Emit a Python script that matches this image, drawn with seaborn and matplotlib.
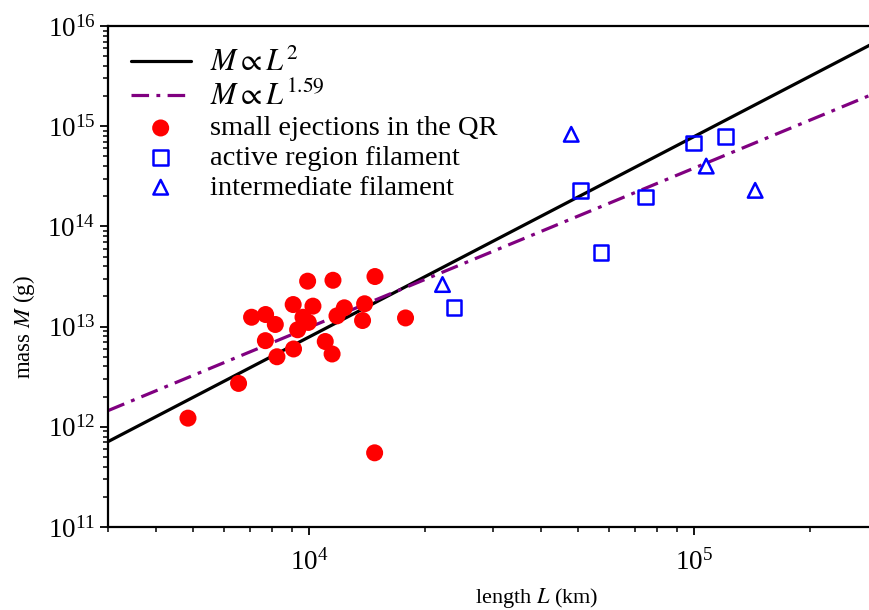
import numpy as np
import pandas as pd
import matplotlib
matplotlib.use("Agg")
import matplotlib.pyplot as plt
import seaborn as sns

# Small ejections in the quiet region: length (km) and mass (g)
qr_length = [4840, 6550, 7080, 7700, 8160, 9080, 10220, 9630, 9940, 9325,
             7690, 8240, 9100, 11000, 11460, 9900, 11520, 14810, 12330,
             11800, 13920, 13750, 17780, 14780]
qr_mass = [1.22e12, 2.71e12, 1.24e13, 1.32e13, 1.05e13, 1.66e13, 1.60e13,
           1.24e13, 1.10e13, 9.3e12, 7.24e12, 5.0e12, 5.98e12, 7.1e12,
           5.33e12, 2.84e13, 2.9e13, 3.16e13, 1.54e13, 1.28e13, 1.69e13,
           1.15e13, 1.22e13, 5.5e11]

# Active region filaments
ar_length = [23770, 50600, 57300, 74700, 99600, 120400]
ar_mass = [1.56e13, 2.29e14, 5.5e13, 1.97e14, 6.8e14, 7.9e14]

# Intermediate filaments
im_length = [22180, 47900, 107400, 143900]
im_mass = [2.63e13, 8.3e14, 4.0e14, 2.29e14]

# Power-law relations M = k * L^p
law_range = [3000, 3.0e5]
p_quad, k_quad = 2.0, 7.9e4
p_fit, k_fit = 1.59, 1.45e12 / 3000 ** 1.59

sns.set_theme(style="ticks")
plt.rcParams["font.family"] = ["Liberation Serif", "DejaVu Serif"]
plt.rcParams["mathtext.fontset"] = "stix"
plt.rcParams["xtick.direction"] = "out"
plt.rcParams["ytick.direction"] = "out"
plt.rcParams["text.color"] = "black"
plt.rcParams["axes.labelcolor"] = "black"

fig = plt.figure(figsize=(8.7, 6.1), dpi=100)
ax = fig.add_axes([108 / 870, 83 / 610, 770 / 870, 501 / 610])

L = np.array(law_range, dtype=float)
quad_df = pd.DataFrame({"L": L, "M": k_quad * L ** p_quad})
fit_df = pd.DataFrame({"L": L, "M": k_fit * L ** p_fit})

sns.lineplot(data=quad_df, x="L", y="M", color="black", lw=2.3,
             label=r"$M \propto L^{2}$", ax=ax)
sns.lineplot(data=fit_df, x="L", y="M", color="#800080", lw=2.3,
             label=r"$M \propto L^{1.59}$", ax=ax)
for ln in ax.get_lines()[1:2]:
    ln.set_linestyle((0, (5.5, 2.3, 1.2, 2.3)))

sns.scatterplot(x=qr_length, y=qr_mass, marker="o", s=150, color="red",
                edgecolor="none", label="small ejections in the QR", ax=ax,
                zorder=3)
sns.scatterplot(x=ar_length, y=ar_mass, marker="s", s=110, facecolor="none",
                edgecolor="blue", linewidth=1.8,
                label="active region filament", ax=ax, zorder=3)
sns.scatterplot(x=im_length, y=im_mass, marker="^", s=110, facecolor="none",
                edgecolor="blue", linewidth=1.8,
                label="intermediate filament", ax=ax, zorder=3)

ax.set_xscale("log")
ax.set_yscale("log")
ax.set_xlim(3000, 3.0e5)
ax.set_ylim(1e11, 1e16)

for side in ["top", "right", "left", "bottom"]:
    ax.spines[side].set_visible(True)
    ax.spines[side].set_linewidth(1.6)
    ax.spines[side].set_color("black")

ax.tick_params(which="major", length=6, width=1.3, labelsize=19.5, colors="black",
               top=False, right=False)
ax.tick_params(which="minor", length=3.5, width=1.1, colors="black",
               top=False, right=False)
ax.tick_params(axis="x", which="major", pad=10)
ax.tick_params(axis="y", which="major", pad=3)

ax.set_xlabel(r"length $L$ (km)", fontsize=16, color="black")
ax.set_ylabel(r"mass $M$ (g)", fontsize=16.5, color="black")
ax.xaxis.set_label_coords(0.557, -0.117)
ax.yaxis.set_label_coords(-0.092, 0.4)

handles, labels = ax.get_legend_handles_labels()
order = [r"$M \propto L^{2}$", r"$M \propto L^{1.59}$",
         "small ejections in the QR", "active region filament",
         "intermediate filament"]
hmap = dict(zip(labels, handles))
leg = ax.legend([hmap[k] for k in order], order, loc="upper left",
                frameon=False, fontsize=20.5, handlelength=2.1,
                handletextpad=0.7, labelspacing=0.13, borderaxespad=0.4,
                labelcolor="black")
for txt in leg.get_texts()[:2]:
    txt.set_fontsize(22)

fig.savefig("out.png", dpi=100)
